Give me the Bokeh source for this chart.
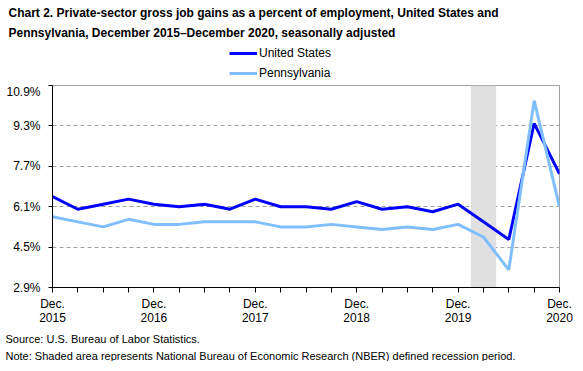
from bokeh.plotting import figure
from bokeh.layouts import column
from bokeh.models import (FixedTicker, PrintfTickFormatter, BoxAnnotation, Title,
                          Legend, LegendItem, Range1d)
from bokeh.embed import file_html
from bokeh.resources import INLINE

# ---- data ----
quarters = list(range(21))  # Dec 2015 .. Dec 2020, quarterly
x_labels = {0: "Dec.\n2015", 4: "Dec.\n2016", 8: "Dec.\n2017",
            12: "Dec.\n2018", 16: "Dec.\n2019", 20: "Dec.\n2020"}
us = [6.5, 6.0, 6.2, 6.4, 6.2, 6.1, 6.2, 6.0, 6.4, 6.1, 6.1,
      6.0, 6.3, 6.0, 6.1, 5.9, 6.2, 5.5, 4.8, 9.4, 7.4]
pa = [5.7, 5.5, 5.3, 5.6, 5.4, 5.4, 5.5, 5.5, 5.5, 5.3, 5.3,
      5.4, 5.3, 5.2, 5.3, 5.2, 5.4, 4.9, 3.6, 10.3, 6.1]
y_ticks = [2.9, 4.5, 6.1, 7.7, 9.3, 10.9]
recession = [16.5, 17.5]
series_names = ["United States", "Pennsylvania"]
series_colors = ["#0000FF", "#80BFFF"]
title_lines = ["Chart 2. Private-sector gross  job gains as a percent of employment, United States and",
               "Pennsylvania, December 2015\u2013December 2020, seasonally adjusted"]
note_lines = ["Source: U.S. Bureau of Labor Statistics.",
              "Note: Shaded area represents National Bureau of Economic Research (NBER) defined recession period."]

FONT = "Liberation Sans"
W = 575
BL, BR = 52, 16

# ---- header: title and legend (legend glyphs taken from series drawn off-frame) ----
head = figure(width=W, height=84, output_backend="svg", toolbar_location=None,
              x_range=Range1d(0, 1), y_range=Range1d(0, 1),
              x_axis_location=None, y_axis_location=None,
              min_border_left=BL, min_border_right=BR, min_border_top=0,
              min_border_bottom=0)
head.outline_line_color = None
head.grid.grid_line_color = None
head.border_fill_color = "white"
head_r = [head.line(quarters, s, line_color=c, line_width=3)
          for s, c in zip([us, pa], series_colors)]
head.add_layout(Legend(items=[LegendItem(label=n, renderers=[r])
                              for n, r in zip(series_names, head_r)],
                       location=(177, 1), orientation="vertical",
                       label_text_font=FONT, label_text_font_size="12px",
                       label_text_color="black", glyph_width=28, glyph_height=20,
                       label_height=20, label_standoff=2, padding=0, margin=0,
                       spacing=0, border_line_color=None, background_fill_alpha=0))
head.add_layout(Title(text=title_lines[1], align="left", offset=-44, text_font=FONT,
                      text_font_size="12px", text_font_style="bold",
                      text_color="black", standoff=1), "above")
head.add_layout(Title(text=title_lines[0], align="left", offset=-44, text_font=FONT,
                      text_font_size="12px", text_font_style="bold",
                      text_color="black", standoff=7), "above")

# ---- main chart ----
p = figure(width=W, height=277, output_backend="svg", toolbar_location=None,
           x_range=(0, 20), y_range=(2.9, 10.9),
           min_border_left=BL, min_border_right=BR, min_border_top=1,
           min_border_bottom=0)
p.outline_line_color = "#a0a0a0"
p.outline_line_width = 1
p.background_fill_color = "white"
p.border_fill_color = "white"

p.add_layout(BoxAnnotation(left=recession[0], right=recession[1],
                           fill_color="#e0e0e0", fill_alpha=1.0,
                           line_color=None, level="underlay"))

p.line(quarters, us, line_color=series_colors[0], line_width=3)
p.line(quarters, pa, line_color=series_colors[1], line_width=3)

p.xaxis.ticker = FixedTicker(ticks=quarters)
p.xaxis.major_label_overrides = {k: x_labels.get(k, "") for k in quarters}
p.xaxis.axis_line_color = "black"
p.xaxis.major_tick_line_color = "black"
p.xaxis.major_tick_out = 5
p.xaxis.major_tick_in = 0
p.xaxis.minor_tick_line_color = None
p.xaxis.major_label_text_font = FONT
p.xaxis.major_label_text_font_size = "12px"
p.xaxis.major_label_text_color = "black"
p.xaxis.major_label_text_line_height = 1.0
p.xaxis.major_label_standoff = 4

p.yaxis.ticker = FixedTicker(ticks=y_ticks)
p.yaxis.formatter = PrintfTickFormatter(format="%.1f%%")
p.yaxis.axis_line_color = "black"
p.yaxis.major_tick_line_color = "black"
p.yaxis.major_tick_out = 4
p.yaxis.major_tick_in = 0
p.yaxis.minor_tick_line_color = None
p.yaxis.major_label_text_font = FONT
p.yaxis.major_label_text_font_size = "12px"
p.yaxis.major_label_text_color = "black"
p.yaxis.major_label_standoff = 8

p.xgrid.grid_line_color = None
p.ygrid.ticker = FixedTicker(ticks=y_ticks[1:])
p.ygrid.grid_line_color = "#a0a0a0"
p.ygrid.grid_line_dash = "4 3"
p.ygrid.grid_line_width = 1

# notes below the axis
p.add_layout(Title(text=note_lines[0], align="left", offset=-47, text_font=FONT,
                   text_font_size="11px", text_font_style="normal",
                   text_color="black", standoff=6), "below")
p.add_layout(Title(text=note_lines[1], align="left", offset=-47, text_font=FONT,
                   text_font_size="11px", text_font_style="normal",
                   text_color="black", standoff=0), "below")

layout = column(head, p, spacing=0)
open("out.html", "w").write(file_html(layout, INLINE))
